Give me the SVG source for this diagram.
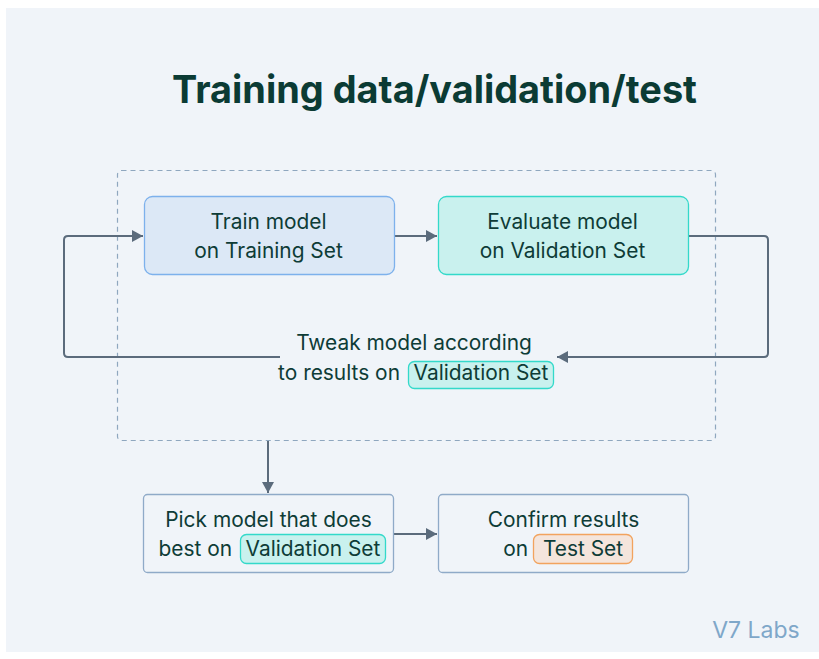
<svg xmlns="http://www.w3.org/2000/svg" width="819" height="659" viewBox="0 0 819 659">
<defs>
<style>
.t{font-family:Inter,"Noto Sans","Liberation Sans",sans-serif;fill:#0E3C37;font-size:20.9px;text-anchor:middle}
.e{text-anchor:end}
.title{font-family:Inter,"Liberation Sans",sans-serif;font-weight:700;font-size:38px;fill:#0B3B34;text-anchor:middle}
.box{stroke-width:1.3}
.conn{fill:none;stroke:#5B6B7C;stroke-width:2}
.pv{fill:#C9F1EE;stroke:#33D9CA;stroke-width:1.3}
.pt{fill:#F4E5DC;stroke:#F2A35E;stroke-width:1.3}
</style>
<marker id="ah" viewBox="0 0 11 12" refX="11" refY="6" markerWidth="11" markerHeight="12" markerUnits="userSpaceOnUse" orient="auto">
<path d="M0,0 L11,6 L0,12 z" fill="#5B6B7C"/>
</marker>
</defs>
<rect x="6" y="8" width="813" height="644" fill="#F0F4F9"/>
<text class="title" x="434.5" y="103" textLength="525" lengthAdjust="spacingAndGlyphs">Training data/validation/test</text>
<rect x="117.5" y="170.5" width="598" height="270" rx="4" fill="none" stroke="#8FA7BF" stroke-width="1.2" stroke-dasharray="5,4"/>
<g id="connectors">
<path class="conn" d="M395,236 H437" marker-end="url(#ah)"/>
<path class="conn" d="M689,236 H764 Q768,236 768,240 V353 Q768,357 764,357 H557" marker-end="url(#ah)"/>
<path class="conn" d="M280,357 H68 Q64,357 64,353 V240 Q64,236 68,236 H143" marker-end="url(#ah)"/>
<path class="conn" d="M268,441 V493" marker-end="url(#ah)"/>
<path class="conn" d="M393,534 H437" marker-end="url(#ah)"/>
</g>
<g id="train">
<rect class="box" x="144.5" y="196.5" width="250" height="78" rx="8" fill="#DCE8F6" stroke="#7DB1EC"/>
<text class="t" x="268.5" y="229">Train model</text>
<text class="t" x="268.5" y="258">on Training Set</text>
</g>
<g id="evaluate">
<rect class="box" x="438.5" y="196.5" width="250" height="78" rx="8" fill="#C9F1EE" stroke="#33D9CA"/>
<text class="t" x="562.5" y="229">Evaluate model</text>
<text class="t" x="562.5" y="258">on Validation Set</text>
</g>
<g id="tweak">
<text class="t" x="414" y="350">Tweak model according</text>
<rect class="pv" x="408.5" y="361.5" width="145" height="27" rx="6"/>
<text class="t e" x="400" y="380">to results on</text>
<text class="t" x="481" y="380">Validation Set</text>
</g>
<g id="pick">
<rect class="box" x="143.5" y="494.5" width="250" height="78" rx="4" fill="#F0F4F9" stroke="#8FAAC8"/>
<text class="t" x="268.5" y="527">Pick model that does</text>
<rect class="pv" x="240.5" y="534.5" width="145" height="29" rx="6"/>
<text class="t e" x="232" y="556">best on</text>
<text class="t" x="313" y="556">Validation Set</text>
</g>
<g id="confirm">
<rect class="box" x="438.5" y="494.5" width="250" height="78" rx="4" fill="#F0F4F9" stroke="#8FAAC8"/>
<text class="t" x="563.5" y="527">Confirm results</text>
<rect class="pt" x="533.5" y="534.5" width="99" height="29" rx="6"/>
<text class="t e" x="528" y="556">on</text>
<text class="t" x="583" y="556">Test Set</text>
</g>
<text x="756" y="638" style="font-family:Inter,'Liberation Sans',sans-serif;font-size:23px;fill:#7FA7C9;text-anchor:middle">V7 Labs</text>
</svg>
